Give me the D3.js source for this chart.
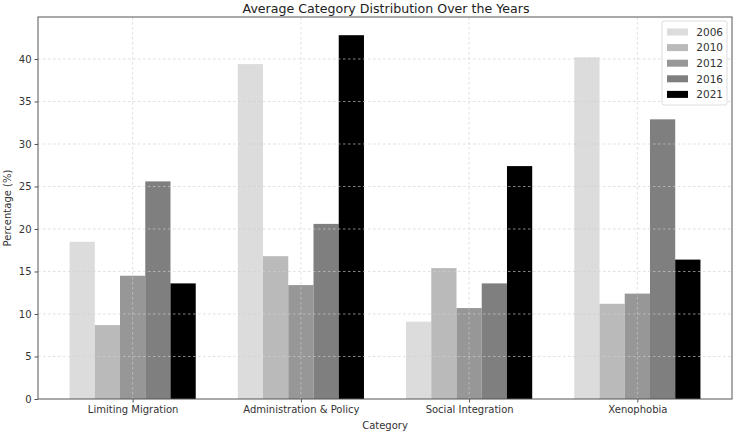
<!DOCTYPE html>
<html><head><meta charset="utf-8">
<script src="https://cdn.jsdelivr.net/npm/d3@7"></script>
<style>body{margin:0;background:#fff}svg{font-family:"DejaVu Sans",sans-serif}</style>
</head><body><svg id="c" width="736" height="434"></svg>
<script>
const categories = ["Limiting Migration","Administration & Policy","Social Integration","Xenophobia"];
const years = ["2006","2010","2012","2016","2021"];
const v2006 = [18.5, 39.4, 9.1, 40.2];
const v2010 = [8.7, 16.8, 15.4, 11.2];
const v2012 = [14.5, 13.4, 10.7, 12.4];
const v2016 = [25.6, 20.6, 13.6, 32.9];
const v2021 = [13.6, 42.8, 27.4, 16.4];
const yTicks = [0,5,10,15,20,25,30,35,40];
const colors = ["#dcdcdc","#bababa","#979797","#7f7f7f","#000000"];
const series = [v2006,v2010,v2012,v2016,v2021];

const svg = d3.select("#c");
const L=38, R=732, T=17, B=399;
const barW = 0.15;
const x = d3.scaleLinear().domain([-0.5625, 3.5625]).range([L,R]);
const y = d3.scaleLinear().domain([0, 42.8*1.05]).range([B,T]);

svg.append("text").attr("x",386).attr("y",12.5).attr("text-anchor","middle")
  .attr("font-size",12.6).attr("fill","#222").text("Average Category Distribution Over the Years");

const g = svg.append("g");
series.forEach((s,i)=>{
  g.selectAll(null).data(s).enter().append("rect")
    .attr("x",(d,j)=>x(j + (i-2)*barW - barW/2))
    .attr("width",x(barW)-x(0))
    .attr("y",d=>y(d)).attr("height",d=>B-y(d))
    .attr("fill",colors[i]);
});
const grid = svg.append("g").attr("stroke","#cfcfcf").attr("stroke-width",0.8).attr("stroke-dasharray","2.5,2.5").attr("opacity",0.8);
yTicks.forEach(t=>{ if(t>0) grid.append("line").attr("x1",L).attr("x2",R).attr("y1",y(t)).attr("y2",y(t)); });
categories.forEach((c,j)=>grid.append("line").attr("x1",x(j)).attr("x2",x(j)).attr("y1",T).attr("y2",B));

const ya = svg.append("g").attr("transform",`translate(${L},0)`).call(d3.axisLeft(y).tickValues(yTicks).tickSize(3.5).tickPadding(3));
const xa = svg.append("g").attr("transform",`translate(0,${B})`).call(d3.axisBottom(x).tickValues(d3.range(categories.length)).tickFormat(i=>categories[i]).tickSize(3.5).tickPadding(3));
[ya,xa].forEach(a=>{a.select(".domain").remove();a.selectAll("text").attr("font-size",10).attr("fill","#333").attr("font-family","DejaVu Sans");a.selectAll("line").attr("stroke","#555");});
svg.append("rect").attr("x",L).attr("y",T).attr("width",R-L).attr("height",B-T).attr("fill","none").attr("stroke","#555").attr("stroke-width",1);

svg.append("text").attr("transform",`translate(11,${(T+B)/2}) rotate(-90)`).attr("text-anchor","middle").attr("font-size",10).attr("fill","#333").text("Percentage (%)");
svg.append("text").attr("x",(L+R)/2).attr("y",429).attr("text-anchor","middle").attr("font-size",10).attr("fill","#333").text("Category");

const lg = svg.append("g");
lg.append("rect").attr("x",662).attr("y",21).attr("width",65).attr("height",84).attr("fill","#fff").attr("fill-opacity",0.8).attr("stroke","#ddd").attr("rx",2);
years.forEach((yr,i)=>{
  const cy = 32 + i*15.6;
  lg.append("rect").attr("x",667).attr("y",cy-3.5).attr("width",21).attr("height",7).attr("fill",colors[i]);
  lg.append("text").attr("x",723).attr("y",cy+3.8).attr("text-anchor","end").attr("font-size",10.5).attr("fill","#333").text(yr);
});
</script></body></html>
